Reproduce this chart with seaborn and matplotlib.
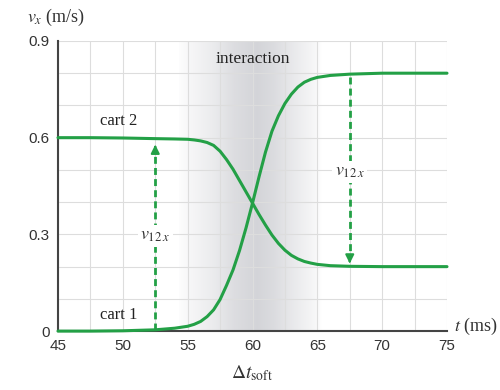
import matplotlib
matplotlib.use("Agg")
import matplotlib.pyplot as plt
import numpy as np
import pandas as pd
import seaborn as sns
from matplotlib.ticker import MultipleLocator

# values
t_ms = [45, 47.5, 50, 52.5, 54, 55, 55.5, 56, 56.5, 57, 57.5, 58, 58.5, 59,
        59.5, 60, 60.5, 61, 61.5, 62, 62.5, 63, 63.5, 64, 64.5, 65, 66, 67.5,
        70, 75]
cart1 = [0.0, 0.0, 0.001, 0.004, 0.009, 0.015, 0.021, 0.03, 0.045, 0.066,
         0.098, 0.142, 0.19, 0.25, 0.32, 0.397, 0.478, 0.555, 0.62, 0.668,
         0.706, 0.735, 0.757, 0.772, 0.781, 0.787, 0.793, 0.797, 0.8, 0.8]
cart2 = [0.6, 0.6, 0.599, 0.597, 0.596, 0.595, 0.593, 0.590, 0.585, 0.576,
         0.558, 0.532, 0.502, 0.467, 0.432, 0.397, 0.362, 0.329, 0.298,
         0.272, 0.251, 0.235, 0.224, 0.216, 0.211, 0.207, 0.203, 0.201, 0.2,
         0.2]
arrow_t = [52.5, 67.5]
x_ticks = [45, 50, 55, 60, 65, 70, 75]
y_ticks = [0, 0.3, 0.6, 0.9]
y_ticklabels = ["0", "0.3", "0.6", "0.9"]

green = "#23a046"
serif = ["Liberation Serif", "DejaVu Serif"]

sns.set_style("white")
plt.rcParams["font.family"] = ["Liberation Sans", "DejaVu Sans"]
plt.rcParams["mathtext.fontset"] = "stix"

df = pd.DataFrame({"t": t_ms * 2,
                   "v": cart1 + cart2,
                   "cart": ["cart 1"] * len(t_ms) + ["cart 2"] * len(t_ms)})

fig = plt.figure(figsize=(5, 3.9), dpi=100)
ax = fig.add_axes([0.116, 0.151, 0.778, 0.744])

# grey "interaction" band, darkest near 60 ms
xs = np.linspace(54.3, 65.5, 300)
alpha = np.interp(xs, [54.3, 55, 57, 58.5, 60.3, 61.5, 63, 64.8, 65.3, 65.5],
                  [0.02, 0.07, 0.18, 0.3, 0.38, 0.32, 0.2, 0.07, 0, 0])
img = np.zeros((1, len(xs), 4))
img[..., :3] = (0.55, 0.56, 0.6)
img[..., 3] = alpha
ax.imshow(img, extent=[54.3, 65.5, 0, 0.9], aspect="auto", zorder=0,
          interpolation="bilinear")

sns.lineplot(data=df, x="t", y="v", hue="cart",
             palette={"cart 1": green, "cart 2": green},
             linewidth=2.2, legend=False, ax=ax, zorder=3, clip_on=False,
             solid_joinstyle="round")

# v12x arrows
lookup1 = dict(zip(t_ms, cart1))
lookup2 = dict(zip(t_ms, cart2))
for i, ta in enumerate(arrow_t):
    lo, hi = lookup1[ta], lookup2[ta]
    if i == 0:
        y0, y1 = lo, hi - 0.01
    else:
        y0, y1 = lo - 0.01, hi
    step = -0.025 if y1 > y0 else 0.025
    ax.plot([ta, ta], [y0, y1 + step], color=green,
            lw=2.0, ls=(0, (2.5, 1.5)), zorder=3)
    ax.annotate("", xy=(ta, y1), xytext=(ta, y1 + 1.2 * step),
                arrowprops=dict(arrowstyle="-|>,head_length=0.5,head_width=0.25",
                                color=green, lw=1.5), zorder=4)
    ym = (y0 + y1) / 2
    ax.text(ta, ym, r"$v_{12\,x}$", ha="center", va="center", fontsize=13,
            color="#333333", zorder=5,
            bbox=dict(boxstyle="square,pad=0.15", fc="white", ec="none"))

ax.text(49.7, 0.628, "cart 2", family=serif, fontsize=12, color="#222222",
        ha="center", va="bottom")
ax.text(49.7, 0.025, "cart 1", family=serif, fontsize=12, color="#222222",
        ha="center", va="bottom")
ax.text(60, 0.845, "interaction", family=serif, fontsize=12.5, color="#222222",
        ha="center", va="center")

ax.set_xlim(45, 75)
ax.set_ylim(0, 0.9)
ax.set_xticks(x_ticks)
ax.set_yticks(y_ticks)
ax.set_yticklabels(y_ticklabels)
ax.xaxis.set_minor_locator(MultipleLocator(2.5))
ax.yaxis.set_minor_locator(MultipleLocator(0.1))
ax.grid(True, which="both", color="#dddddd", lw=0.8, zorder=0.5)
ax.set_axisbelow(True)
ax.tick_params(which="major", direction="in", length=6, width=1.2,
               color="#444444", labelsize=11, labelcolor="#333333", pad=6)
ax.tick_params(which="minor", length=0)
ax.set_xlabel("")
ax.set_ylabel("")
sns.despine(ax=ax)
for s in ("left", "bottom"):
    ax.spines[s].set_color("#444444")
    ax.spines[s].set_linewidth(1.5)

fig.text(0.054, 0.955, r"$v_x$ (m/s)", fontsize=13, color="#333333",
         family=serif, va="center", ha="left")
fig.text(0.908, 0.163, r"$t$ (ms)", fontsize=13, color="#333333",
         family=serif, va="center", ha="left")
ax.text(60, -0.13, r"$\Delta t_{\mathrm{soft}}$", fontsize=14, color="#333333",
        ha="center", va="center")

fig.savefig("out.png", dpi=100)
